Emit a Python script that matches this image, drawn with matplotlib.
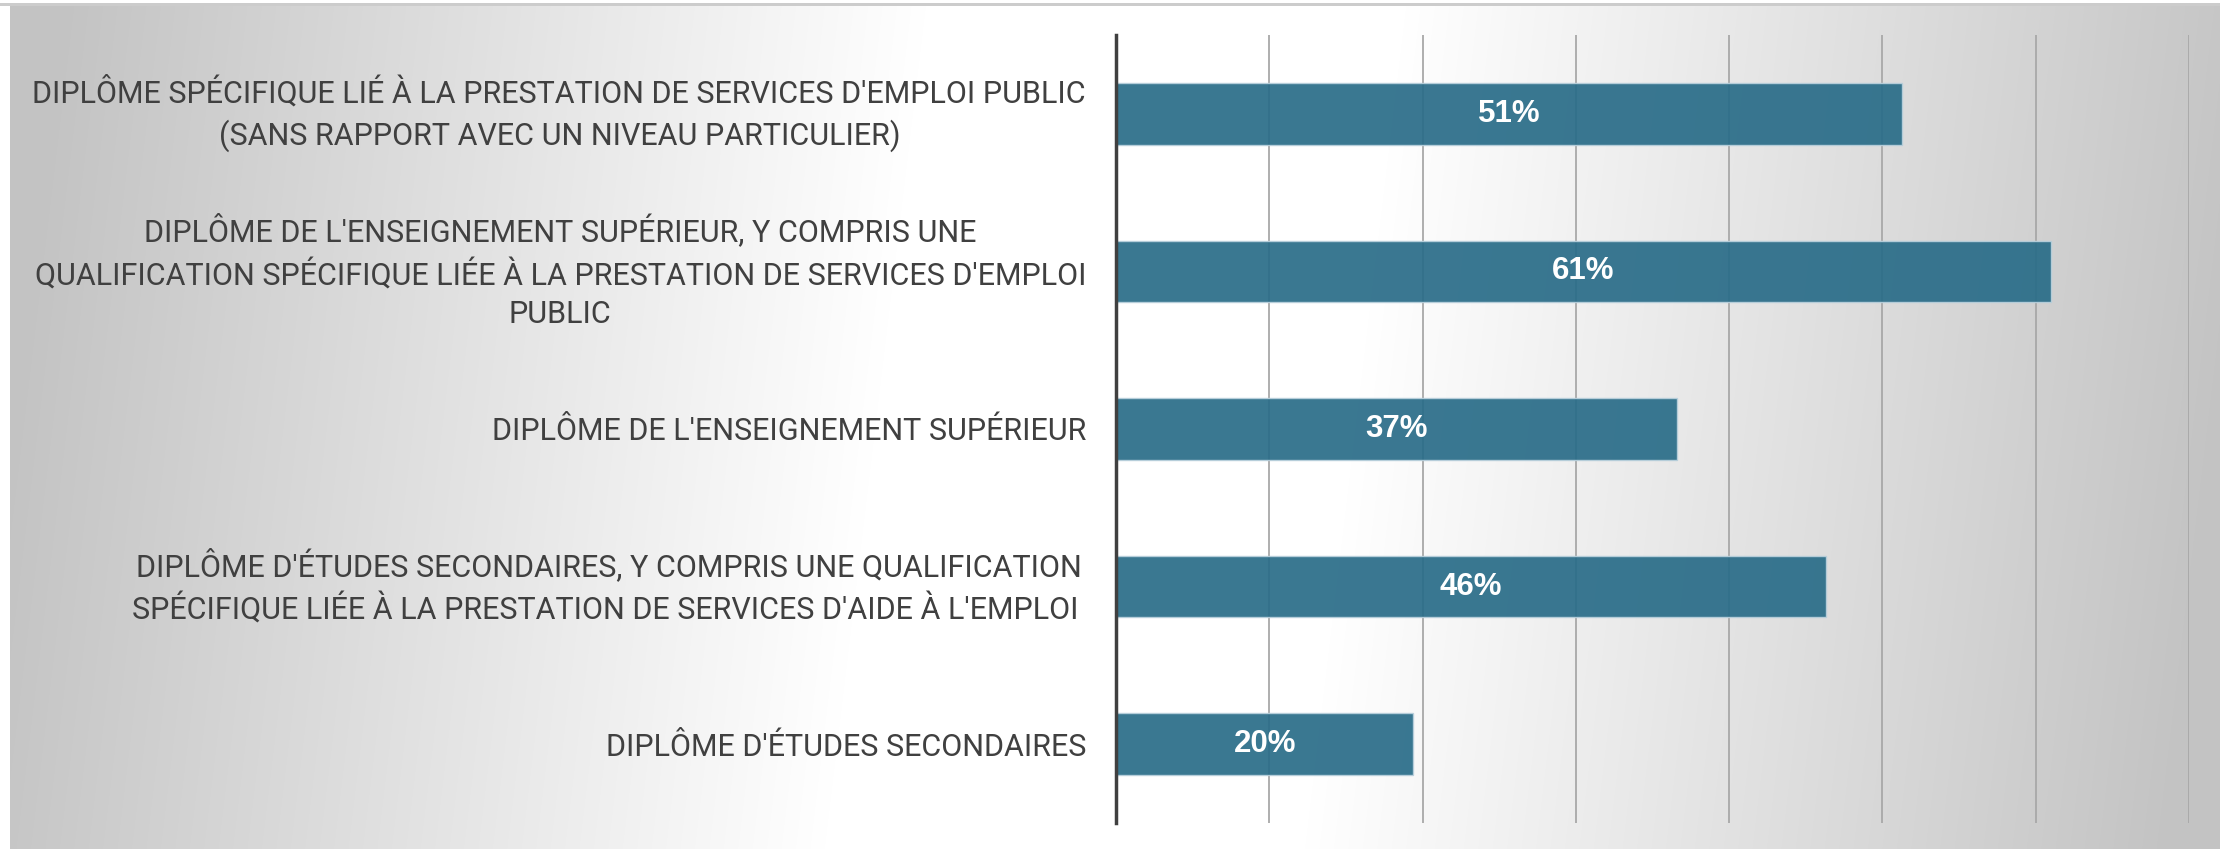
import numpy as np
import matplotlib
matplotlib.use('Agg')
from matplotlib import pyplot as plt

# ----- DATA ----- #

categories = [
    "DIPLÔME SPÉCIFIQUE LIÉ À LA PRESTATION DE SERVICES D'EMPLOI PUBLIC\n(SANS RAPPORT AVEC UN NIVEAU PARTICULIER)",
    "DIPLÔME DE L'ENSEIGNEMENT SUPÉRIEUR, Y COMPRIS UNE\nQUALIFICATION SPÉCIFIQUE LIÉE À LA PRESTATION DE SERVICES D'EMPLOI\nPUBLIC",
    "DIPLÔME DE L'ENSEIGNEMENT SUPÉRIEUR",
    "DIPLÔME D'ÉTUDES SECONDAIRES, Y COMPRIS UNE QUALIFICATION\nSPÉCIFIQUE LIÉE À LA PRESTATION DE SERVICES D'AIDE À L'EMPLOI ",
    "DIPLÔME D'ÉTUDES SECONDAIRES",
]
values = [0.513, 0.610, 0.366, 0.463, 0.194]
value_labels = ['51%', '61%', '37%', '46%', '20%']
grid_ticks = [0.1, 0.2, 0.3, 0.4, 0.5, 0.6, 0.7]

# ----- FIGURE ----- #

W, H, DPI = 2231, 849, 100
fig = plt.figure(figsize=(W / DPI, H / DPI), dpi=DPI)

# background: white page, grey-white-grey gradient panel, thin top rule
yy, xx = np.mgrid[0:H, 0:W]
s = xx + 0.12 * (yy - 427)
t = np.clip((np.abs(s - 1115) - 240) / (1105 - 240), 0, 1)
v = 1 - 0.235 * t
panel = (xx >= 10) & (xx < 2220) & (yy >= 5)
bg = np.ones((H, W))
bg[panel] = v[panel]
bg[3:6, 0:2220] = 0.80
fig.figimage(np.dstack([bg, bg, bg]), xo=0, yo=0, origin='upper', zorder=-10)

ax = fig.add_axes([0.5002, 0.0306, 0.9812 - 0.5002, 0.9588 - 0.0306])
ax.set_facecolor('none')

y = np.arange(len(categories))
ax.barh(y, values, height=0.39, color='#296c88', alpha=0.92,
        edgecolor='#b9d0dc', linewidth=1.0, zorder=3)

for yi, val, lab in zip(y, values, value_labels):
    ax.text(val / 2, yi, lab, ha='center', va='center', color='white',
            fontsize=22.5, fontweight='bold', family='Liberation Sans', zorder=4)

ax.set_xlim(0, 0.7)
ax.set_ylim(len(categories) - 0.5, -0.5)
ax.set_xticks(grid_ticks)
ax.set_xticklabels([])
ax.tick_params(axis='x', length=0)
ax.tick_params(axis='y', length=0, pad=21.5)
ax.set_yticks(y)
ax.set_yticklabels(categories, fontsize=22, color='#404040',
                   family=['Roboto', 'DejaVu Sans'], linespacing=1.42)
for lbl in ax.get_yticklabels():
    lbl.set_multialignment('center')
    if '\n' in lbl.get_text():
        lbl.set_verticalalignment('center')

ax.xaxis.grid(True, color='#a8a8a8', linewidth=1.3)
ax.set_axisbelow(True)
for side in ['top', 'right', 'bottom']:
    ax.spines[side].set_visible(False)
ax.spines['left'].set_color('#404040')
ax.spines['left'].set_linewidth(2.5)
ax.spines['left'].set_zorder(5)

plt.savefig('out.png', dpi=DPI)
